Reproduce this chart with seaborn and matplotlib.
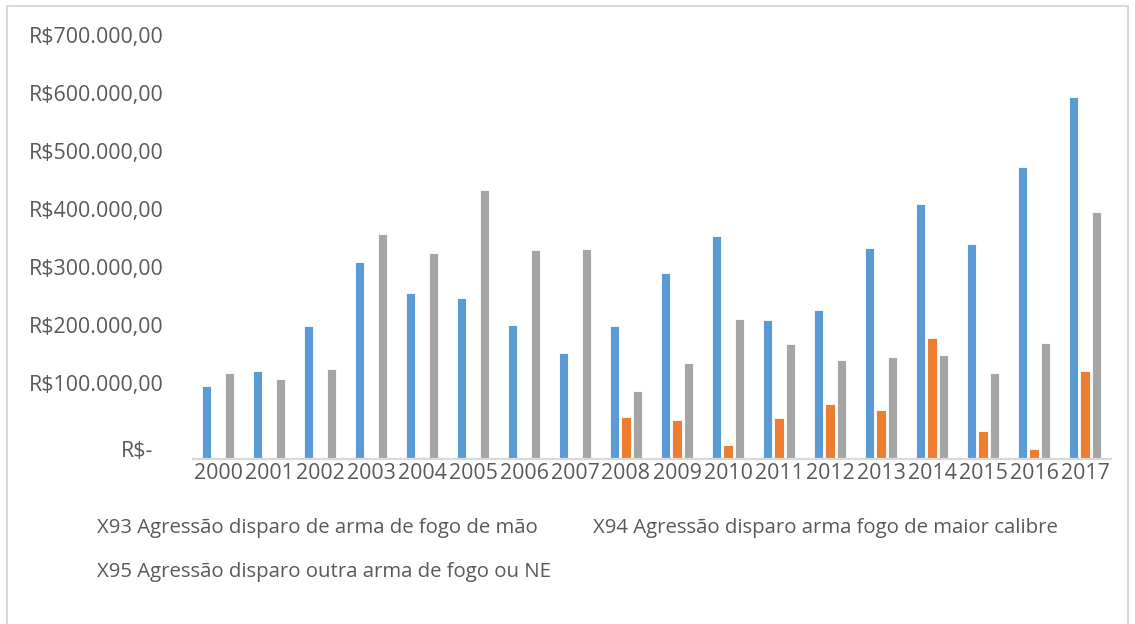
import numpy as np
import pandas as pd
import matplotlib
matplotlib.use("Agg")
import matplotlib.pyplot as plt
import seaborn as sns
from matplotlib.transforms import ScaledTranslation
from matplotlib.patches import Patch, Rectangle
from matplotlib.ticker import FuncFormatter, MultipleLocator

# Custos por ano e por tipo de agressão por arma de fogo (R$)
anos = [str(a) for a in range(2000, 2018)]
x93 = [126000, 151000, 229000, 339000, 287000, 278000, 231000, 183000, 230000,
       321000, 384000, 240000, 257000, 364000, 440000, 370000, 503000, 624000]
x94 = [2000, 0, 0, 2000, 4000, 0, 0, 2000, 72000,
       67000, 24000, 71000, 95000, 85000, 208000, 48000, 17000, 152000]
x95 = [148000, 138000, 155000, 388000, 356000, 463000, 360000, 362000, 117000,
       165000, 241000, 198000, 170000, 176000, 179000, 148000, 200000, 426000]

series = ["X93 Agressão disparo de arma de fogo de mão",
          "X94 Agressão disparo arma fogo de maior calibre",
          "X95 Agressão disparo outra arma de fogo ou NE"]
cores = ["#5B9BD5", "#ED7D31", "#A5A5A5"]

df = pd.DataFrame({
    "ano": anos * 3,
    "serie": np.repeat(series, len(anos)),
    "valor": x93 + x94 + x95,
})

sns.set_theme(style="white")
plt.rcParams["font.family"] = ["Open Sans", "DejaVu Sans"]
texto = "#595959"

W, H = 1135, 624
fig = plt.figure(figsize=(W / 100, H / 100), dpi=100)
ax = fig.add_axes([192.5 / W, 1 - 459 / H, 918 / W, 406 / H])

sns.barplot(data=df, x="ano", y="valor", hue="serie", palette=cores,
            width=0.685, gap=0.18, saturation=1, errorbar=None, legend=False,
            edgecolor="white", linewidth=0.6, ax=ax)

ax.set_xlim(-0.5, len(anos) - 0.5)
ax.set_ylim(0, 700000)
ax.yaxis.set_major_locator(MultipleLocator(100000))


def reais(v, pos):
    if abs(v) < 1:
        return "R$-"
    s = f"{v:,.2f}".replace(",", "X").replace(".", ",").replace("X", ".")
    return "R$" + s


ax.yaxis.set_major_formatter(FuncFormatter(reais))
ax.set_xlabel("")
ax.set_ylabel("")
for side in ["top", "right", "left"]:
    ax.spines[side].set_visible(False)
ax.spines["bottom"].set_color("#D9D9D9")
ax.spines["bottom"].set_linewidth(1.6)
ax.tick_params(axis="both", length=0, labelsize=15.4, colors=texto)
ax.tick_params(axis="y", pad=21)
ax.tick_params(axis="x", pad=3)

# Rótulos do eixo de valores deslocados para cima
fig.canvas.draw()
for lab in ax.get_yticklabels():
    if lab.get_text() == "R$-":
        off = ScaledTranslation(-0.10, 0.10, fig.dpi_scale_trans)
    else:
        off = ScaledTranslation(0, 0.18, fig.dpi_scale_trans)
    lab.set_transform(lab.get_transform() + off)

# Legenda só com texto, em duas colunas
ordem = [0, 2, 1]
handles = [Patch(visible=False) for _ in ordem]
labels = [series[i] for i in ordem]
fig.legend(handles, labels, loc="upper left",
           bbox_to_anchor=(97 / W, 1 - 518 / H), ncol=2, frameon=False,
           handlelength=0, handletextpad=0, borderpad=0, borderaxespad=0,
           columnspacing=2.05, labelspacing=1.2, fontsize=14.7,
           labelcolor=texto)

# Moldura do gráfico
fig.patches.append(Rectangle((7 / W, -0.05), (1128 - 7) / W, 1 - 6 / H + 0.05,
                             transform=fig.transFigure, fill=False,
                             edgecolor="#D9D9D9", linewidth=1.5))

fig.savefig("out.png", dpi=100, facecolor="white")
